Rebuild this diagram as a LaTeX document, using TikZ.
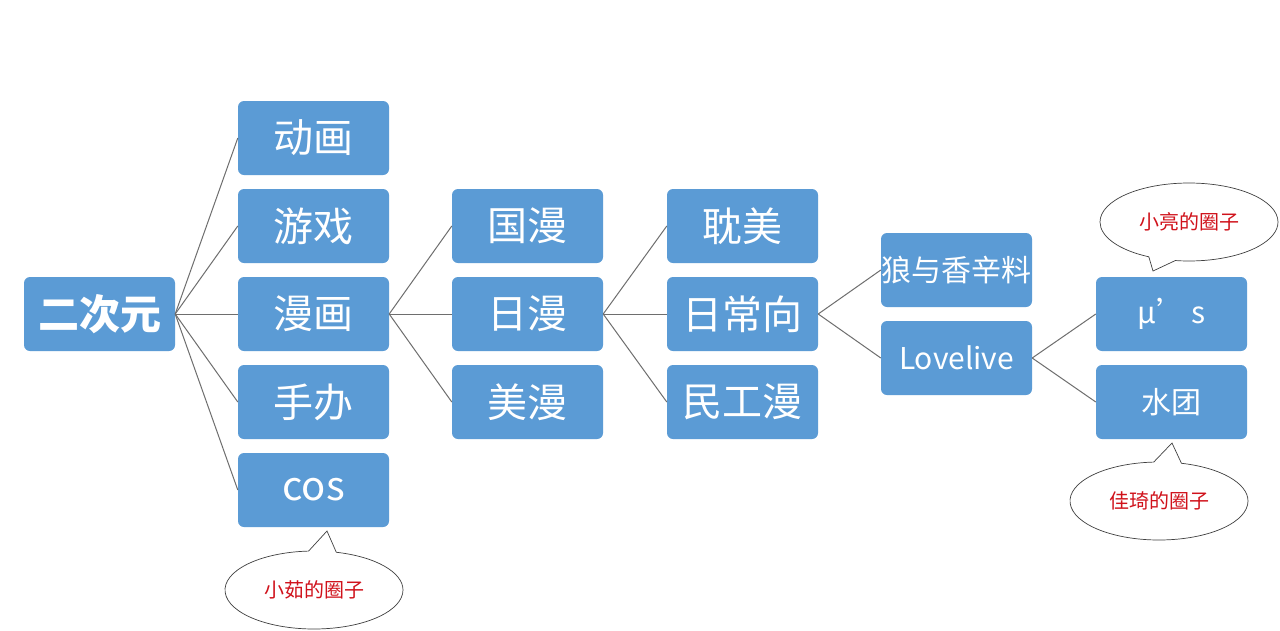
\documentclass[tikz,border=0pt]{standalone}
\usepackage{fontspec}
\newfontfamily\cjk{Noto Sans CJK SC}
\usetikzlibrary{shapes.callouts}
\definecolor{boxblue}{HTML}{5B9BD5}
\definecolor{linegray}{HTML}{6E6E6E}
\definecolor{txtred}{HTML}{D0121B}
\begin{document}
\begin{tikzpicture}[x=1pt,y=-1pt,
  box/.style={fill=boxblue, rounded corners=6pt, minimum width=151pt, minimum height=74pt, inner sep=0pt, text=white, font=\cjk\fontsize{40}{42}\selectfont},
  smalltext/.style={font=\cjk\fontsize{30}{32}\selectfont},
  link/.style={draw=linegray, line width=1pt},
  bubble/.style={ellipse callout, draw=black!75, fill=white, line width=0.7pt, minimum width=178pt, minimum height=78pt, inner sep=0pt, text=txtred, font=\cjk\fontsize{20}{22}\selectfont, callout pointer arc=18}]
\useasboundingbox[fill=white] (0,0) rectangle (1280,630);
% root
\node[box, font=\cjk\bfseries\fontsize{41}{43}\selectfont] (root) at (99.5,314) {二次元};
% column 1
\node[box] (dh) at (313.5,138) {动画};
\node[box] (yx) at (313.5,226) {游戏};
\node[box] (mh) at (313.5,314) {漫画};
\node[box] (sb) at (313.5,402) {手办};
\node[box] (cos) at (313.5,490) {cos};
% column 2
\node[box] (gm) at (527.5,226) {国漫};
\node[box] (rm) at (527.5,314) {日漫};
\node[box] (mm) at (527.5,402) {美漫};
% column 3
\node[box] (dm) at (742.5,226) {耽美};
\node[box] (rcx) at (742.5,314) {日常向};
\node[box] (mgm) at (742.5,402) {民工漫};
% column 4
\node[box, smalltext] (lang) at (956.5,270) {狼与香辛料};
\node[box, smalltext] (ll) at (956.5,358) {Lovelive};
% column 5
\node[box, smalltext] (mus) at (1171.5,314) {μ’\,s};
\node[box, smalltext] (st) at (1171.5,402) {水团};
% connectors
\foreach \c in {dh,yx,mh,sb,cos} \draw[link] (root.east) -- (\c.west);
\foreach \c in {gm,rm,mm} \draw[link] (mh.east) -- (\c.west);
\foreach \c in {dm,rcx,mgm} \draw[link] (rm.east) -- (\c.west);
\foreach \c in {lang,ll} \draw[link] (rcx.east) -- (\c.west);
\foreach \c in {mus,st} \draw[link] (ll.east) -- (\c.west);
% callouts
\node[bubble, callout absolute pointer={(327,531)}] (b1) at (314,590) {小茹的圈子};
\node[bubble, callout absolute pointer={(1153,271)}] (b2) at (1189,222) {小亮的圈子};
\node[bubble, callout absolute pointer={(1172,443)}] (b3) at (1159,501) {佳琦的圈子};
\end{tikzpicture}
\end{document}
